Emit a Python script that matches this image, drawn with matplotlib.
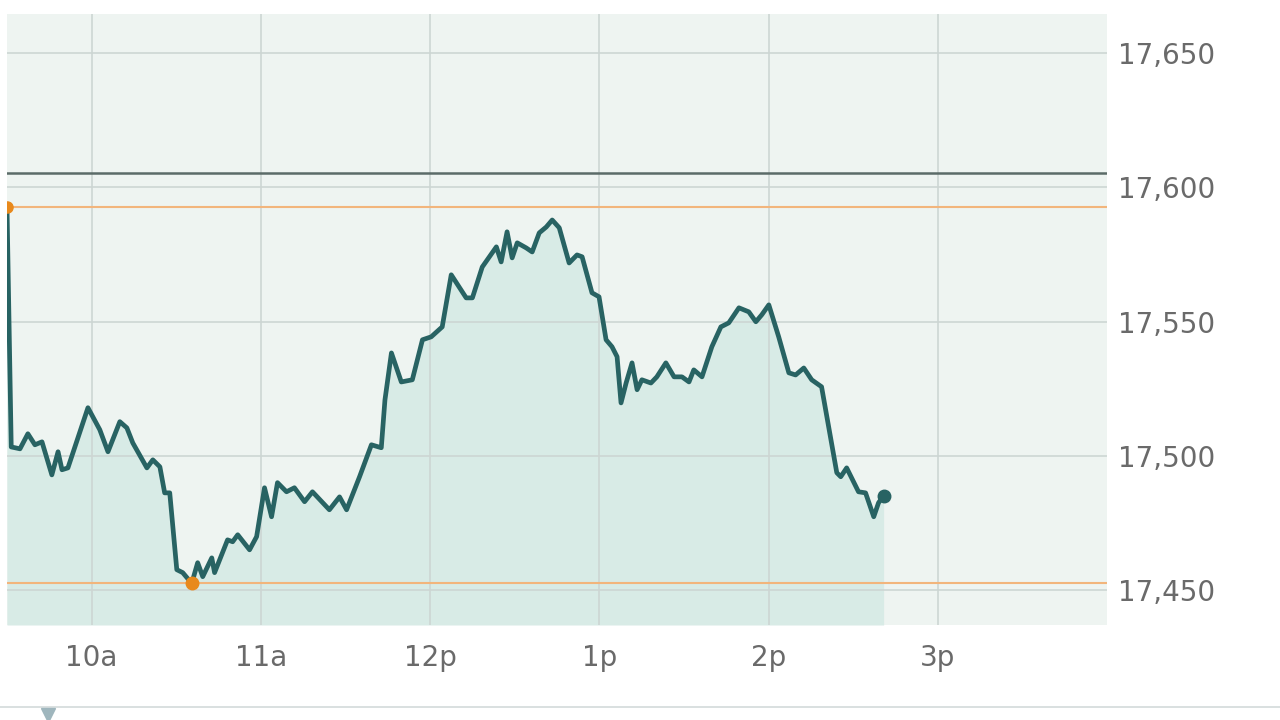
import numpy as np
import matplotlib
matplotlib.use("Agg")
import matplotlib.pyplot as plt
from matplotlib.lines import Line2D

# ------------------------------- DATA ---------------------------------------
# minutes after the 9:30 open, index level
minutes = [0, 1.5, 4.6, 7.4, 9.9, 12.4, 15.9, 18.1, 19.5, 21.6, 28.7, 32.9, 35.8,
           40.0, 42.5, 44.6, 49.6, 51.7, 54.2, 55.9, 57.7, 60.2, 62.3, 65.5, 67.6,
           69.4, 72.6, 73.6, 78.2, 80.0, 81.8, 86.0, 88.5, 91.3, 93.8, 95.9, 99.1,
           101.9, 105.5, 108.3, 114.3, 117.9, 120.4, 125.0, 129.2, 132.7, 134.0,
           136.3, 139.8, 143.7, 147.3, 150.4, 154.3, 157.5, 162.8, 165.0, 168.5,
           173.5, 175.2, 177.3, 179.1, 180.9, 184.1, 186.2, 188.7, 191.2, 193.3,
           195.8, 199.3, 202.1, 203.9, 207.4, 209.9, 212.4, 214.5, 216.3, 217.7,
           219.5, 221.6, 223.4, 225.1, 228.3, 230.4, 233.6, 236.5, 239.3, 241.8,
           243.5, 246.4, 249.9, 253.1, 255.9, 259.5, 263.0, 265.5, 267.6, 270.1,
           273.6, 277.2, 279.6, 282.5, 285.3, 288.8, 294.2, 295.6, 297.7, 301.9,
           304.4, 307.3, 309.0, 310.8]
prices = [17592.5, 17503.3, 17502.6, 17508.2, 17504.1, 17505.2, 17492.9, 17501.5,
          17494.8, 17495.5, 17517.9, 17509.7, 17501.5, 17512.7, 17510.4, 17504.8,
          17495.5, 17498.5, 17495.9, 17486.2, 17486.2, 17457.6, 17456.5, 17452.5,
          17460.2, 17455.0, 17462.0, 17456.5, 17468.7, 17468.0, 17470.6, 17465.0,
          17469.9, 17488.1, 17477.3, 17490.0, 17486.6, 17488.1, 17482.9, 17486.6,
          17479.9, 17484.7, 17479.9, 17492.2, 17504.1, 17503.0, 17520.8, 17538.3,
          17527.5, 17528.3, 17543.2, 17544.3, 17548.0, 17567.4, 17558.8, 17558.8,
          17570.3, 17577.8, 17572.2, 17583.4, 17573.7, 17579.3, 17577.4, 17575.9,
          17583.0, 17585.2, 17587.8, 17584.9, 17571.8, 17574.8, 17574.1, 17560.7,
          17559.2, 17543.2, 17540.6, 17536.9, 17519.7, 17527.1, 17534.6, 17524.6,
          17528.3, 17527.1, 17529.4, 17534.6, 17529.4, 17529.4, 17527.5, 17532.0,
          17529.4, 17540.6, 17548.0, 17549.5, 17555.1, 17553.6, 17549.9, 17552.5,
          17556.2, 17544.3, 17530.9, 17530.1, 17532.7, 17528.3, 17525.7, 17493.7,
          17492.2, 17495.5, 17486.6, 17486.2, 17477.3, 17482.5, 17485.2]
prev_close = 17605.3
hour_ticks = [30, 90, 150, 210, 270, 330]
hour_labels = ['10a', '11a', '12p', '1p', '2p', '3p']
price_ticks = [17450, 17500, 17550, 17600, 17650]

# ------------------------------- STYLE --------------------------------------
BG, FILL, LINE = '#eef4f1', '#d8ebe6', '#286363'
GRID, ORANGE, TXT = '#cdd6d3', '#f2b57c', '#6a6a6a'

t = np.array(minutes); p = np.array(prices)
hi_i, lo_i = int(np.argmax(p)), int(np.argmin(p))

fig = plt.figure(figsize=(12.8, 7.2), dpi=100)
ax = fig.add_axes([7/1280, 1 - 625/720, 1100/1280, 611/720])
ax.set_facecolor(BG)
ax.set_xlim(0, 390); ax.set_ylim(17437, 17664.5)

ax.fill_between(t, p, 17437, color=FILL, zorder=1, lw=0)
ax.set_xticks(hour_ticks); ax.set_xticklabels(hour_labels)
ax.set_yticks(price_ticks)
ax.yaxis.set_major_formatter(matplotlib.ticker.FuncFormatter(lambda v, _: f'{v:,.0f}'))
ax.yaxis.tick_right()
ax.grid(True, color=GRID, lw=1.2, zorder=2)
ax.set_axisbelow(False)
for s in ax.spines.values():
    s.set_visible(False)
ax.tick_params(length=0, labelsize=20, labelcolor=TXT)
ax.tick_params(axis='x', pad=14)
ax.tick_params(axis='y', pad=8)

ax.axhline(prev_close, color='#5b6b68', lw=1.8, zorder=3)
ax.axhline(p[hi_i], color=ORANGE, lw=1.5, zorder=3)
ax.axhline(p[lo_i], color=ORANGE, lw=1.5, zorder=3)

ax.plot(t, p, color=LINE, lw=3.4, zorder=4, solid_joinstyle='round')
ax.plot(t[hi_i], p[hi_i], 'o', color='#e8891c', ms=8, zorder=5)
ax.plot(t[lo_i], p[lo_i], 'o', color='#e8891c', ms=9, zorder=5)
ax.plot(t[-1], p[-1], 'o', color=LINE, ms=9, zorder=5)

# footer rule and little marker
fig.add_artist(Line2D([0, 1], [1 - 707/720] * 2, color='#d3dada', lw=1.2))
fig.add_artist(Line2D([48/1280], [1 - 715/720], marker='v', color='#9fb6bd',
                      ms=10, lw=0))

fig.savefig('out.png', dpi=100)
